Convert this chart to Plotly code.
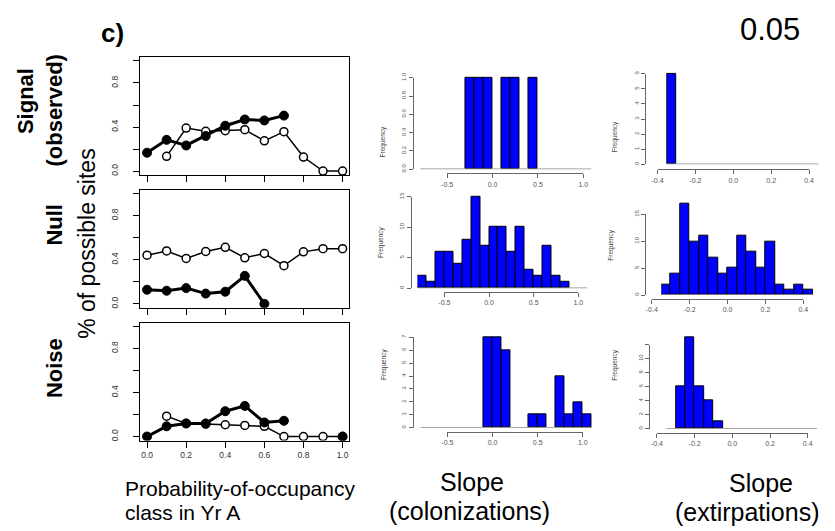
import numpy as np
import plotly.graph_objects as go

W, H = 835, 531
FONT = "Liberation Sans, Arial, sans-serif"

# ---------------- data ----------------
occ_class = [0.0, 0.1, 0.2, 0.3, 0.4, 0.5, 0.6, 0.7, 0.8, 0.9, 1.0]
occ_ticks = [0.0, 0.2, 0.4, 0.6, 0.8, 1.0]
occ_ticktext = ["0.0", "0.2", "0.4", "0.6", "0.8", "1.0"]
pct_ticks = [0.0, 0.2, 0.4, 0.6, 0.8, 1.0]
pct_ticktext = ["0.0", "", "0.4", "", "0.8", ""]

signal_open = [None, 0.134, 0.391, 0.361, 0.367, 0.376, 0.275, 0.358, 0.128, 0.0, 0.0]
signal_filled = [0.167, 0.284, 0.233, 0.319, 0.412, 0.469, 0.460, 0.504, None, None, None]
null_open = [0.442, 0.480, 0.412, 0.475, 0.513, 0.418, 0.457, 0.346, 0.472, 0.501, 0.501]
null_filled = [0.128, 0.119, 0.143, 0.093, 0.110, 0.254, 0.0, None, None, None, None]
noise_open = [None, 0.185, 0.119, 0.113, 0.107, 0.101, 0.093, 0.0, 0.0, 0.0, 0.0]
noise_filled = [0.0, 0.093, 0.119, 0.119, 0.230, 0.278, 0.128, 0.143, None, None, 0.0]

# histogram bins: colonization slopes (breaks -0.8 .. 1.1 by 0.1)
col_break_start, col_break_width = -0.8, 0.1
signal_col_counts = [0, 0, 0, 0, 0, 1, 1, 1, 0, 1, 1, 0, 1, 0, 0, 0, 0, 0, 0]
null_col_counts = [2, 1, 6, 6, 4, 8, 15, 7, 10, 10, 6, 10, 3, 2, 7, 2, 1, 0, 0]
noise_col_counts = [0, 0, 0, 0, 0, 0, 0, 7, 7, 6, 0, 0, 1, 1, 0, 4, 1, 2, 1]
col_xticks = [-0.5, 0.0, 0.5, 1.0]
col_xticktext = ["-0.5", "0.0", "0.5", "1.0"]

# extirpation slopes (breaks -0.35 .. 0.45 by 0.05)
ext_break_start, ext_break_width = -0.35, 0.05
signal_ext_counts = [6, 0, 0, 0, 0, 0, 0, 0, 0, 0, 0, 0, 0, 0, 0, 0]
null_ext_counts = [2, 4, 17, 10, 11, 7, 4, 5, 11, 8, 5, 10, 2, 1, 2, 1]
noise_ext_counts = [0, 6, 13, 6, 4, 1, 0, 0, 0, 0, 0, 0, 0, 0, 0, 0]
ext_xticks = [-0.4, -0.2, 0.0, 0.2, 0.4]
ext_xticktext = ["-0.4", "-0.2", "0.0", "0.2", "0.4"]

freq_ticks_signal_col = [0.0, 0.2, 0.4, 0.6, 0.8, 1.0]
freq_ticktext_signal_col = ["0.0", "0.2", "0.4", "0.6", "0.8", "1.0"]
freq_ticks_null_col = [0, 5, 10, 15]
freq_ticks_noise_col = [0, 1, 2, 3, 4, 5, 6, 7]
freq_ticks_signal_ext = [0, 1, 2, 3, 4, 5, 6]
freq_ticks_null_ext = [0, 5, 10, 15]
freq_ticks_noise_ext = [0, 2, 4, 6, 8, 10, 12]
freq_ticktext_noise_ext = ["0", "2", "4", "6", "8", "10", ""]

# ---------------- helpers ----------------
def fx(px):
    return px / W

def fy(py):
    return 1 - py / H

fig = go.Figure()
layout = {}
axis_counter = [0]

def new_axes():
    axis_counter[0] += 1
    n = axis_counter[0]
    sfx = "" if n == 1 else str(n)
    return ("x" + sfx, "y" + sfx, "xaxis" + sfx, "yaxis" + sfx)

# ---------------- left line panels ----------------
left_panels = [
    dict(open=signal_open, filled=signal_filled, top=52, bottom=172, labels=False),
    dict(open=null_open, filled=null_filled, top=187, bottom=307, labels=False),
    dict(open=noise_open, filled=noise_filled, top=322, bottom=442, labels=True),
]
for p in left_panels:
    xr, yr, xk, yk = new_axes()
    fig.add_trace(go.Scatter(x=occ_class, y=p["open"], xaxis=xr, yaxis=yr, mode="lines+markers",
                             line=dict(color="black", width=1.5),
                             marker=dict(symbol="circle", size=8, color="white",
                                         line=dict(color="black", width=1.5)),
                             showlegend=False, hoverinfo="skip"))
    fig.add_trace(go.Scatter(x=occ_class, y=p["filled"], xaxis=xr, yaxis=yr, mode="lines+markers",
                             line=dict(color="black", width=3),
                             marker=dict(symbol="circle", size=9, color="black",
                                         line=dict(color="black", width=1)),
                             showlegend=False, hoverinfo="skip"))
    layout[xk] = dict(domain=[fx(136), fx(348)], range=[-0.035, 1.035], anchor=yr,
                      showgrid=False, zeroline=False, showline=True, linecolor="black", linewidth=1,
                      mirror=True, ticks="outside", ticklen=6, tickcolor="black",
                      tickvals=occ_ticks, ticktext=occ_ticktext, showticklabels=p["labels"],
                      tickfont=dict(size=8.5, color="#333", family=FONT))
    layout[yk] = dict(domain=[fy(p["bottom"]), fy(p["top"])], range=[-0.036, 1.035], anchor=xr,
                      showgrid=False, zeroline=False, showline=True, linecolor="black", linewidth=1,
                      mirror=True, ticks="outside", ticklen=6, tickcolor="black",
                      tickvals=pct_ticks, ticktext=pct_ticktext, tickangle=-90,
                      ticklabelstandoff=12,
                      tickfont=dict(size=8.5, color="#333", family=FONT))

# ---------------- histograms ----------------
hists = [
    dict(counts=signal_col_counts, b0=col_break_start, bw=col_break_width,
         xl=420, xr=593, x0px=493, xs=92, base=166, ys=93, ytop=69,
         yt=freq_ticks_signal_col, ytt=freq_ticktext_signal_col, yaxpx=412, xaxpy=170,
         xt=col_xticks, xtt=col_xticktext, flab=(382, 120)),
    dict(counts=null_col_counts, b0=col_break_start, bw=col_break_width,
         xl=417, xr=590, x0px=489.5, xs=90.5, base=287, ys=6.2, ytop=190,
         yt=freq_ticks_null_col, ytt=[str(v) for v in freq_ticks_null_col], yaxpx=410, xaxpy=291,
         xt=col_xticks, xtt=col_xticktext, flab=(380, 240)),
    dict(counts=noise_col_counts, b0=col_break_start, bw=col_break_width,
         xl=420, xr=594, x0px=493, xs=91.5, base=429, ys=13.14, ytop=333,
         yt=freq_ticks_noise_col, ytt=[str(v) for v in freq_ticks_noise_col], yaxpx=412, xaxpy=433,
         xt=col_xticks, xtt=col_xticktext, flab=(383, 382)),
    dict(counts=signal_ext_counts, b0=ext_break_start, bw=ext_break_width,
         xl=669, xr=824, x0px=737, xs=192, base=161, ys=15.33, ytop=65,
         yt=freq_ticks_signal_ext, ytt=[str(v) for v in freq_ticks_signal_ext], yaxpx=648, xaxpy=166,
         xt=ext_xticks, xtt=ext_xticktext, flab=(623, 115)),
    dict(counts=null_ext_counts, b0=ext_break_start, bw=ext_break_width,
         xl=664, xr=818, x0px=731.2, xs=192, base=294, ys=5.47, ytop=197,
         yt=freq_ticks_null_ext, ytt=[str(v) for v in freq_ticks_null_ext], yaxpx=648, xaxpy=298,
         xt=ext_xticks, xtt=ext_xticktext, flab=(619, 243)),
    dict(counts=noise_ext_counts, b0=ext_break_start, bw=ext_break_width,
         xl=669, xr=824, x0px=736, xs=191, base=430, ys=7.13, ytop=334,
         yt=freq_ticks_noise_ext, ytt=freq_ticktext_noise_ext, yaxpx=652, xaxpy=434,
         xt=ext_xticks, xtt=ext_xticktext, flab=(623, 383)),
]

annotations = []
for h in hists:
    counts = np.array(h["counts"], dtype=float)
    n = len(counts)
    edges = h["b0"] + h["bw"] * np.arange(n + 1)
    centers = (edges[:-1] + edges[1:]) / 2
    mask = counts > 0
    # data axes (invisible)
    xr, yr, xk, yk = new_axes()
    fig.add_trace(go.Scatter(x=[edges[0], edges[-1]], y=[0, 0], xaxis=xr, yaxis=yr, mode="lines",
                             line=dict(color="#8a8a8a", width=1.5), showlegend=False, hoverinfo="skip"))
    fig.add_trace(go.Bar(x=centers[mask], y=counts[mask], width=h["bw"], xaxis=xr, yaxis=yr,
                         marker=dict(color="#0000FF", line=dict(color="black", width=1)),
                         showlegend=False, hoverinfo="skip"))
    layout[xk] = dict(domain=[fx(h["xl"]), fx(h["xr"])],
                      range=[(h["xl"] - h["x0px"]) / h["xs"], (h["xr"] - h["x0px"]) / h["xs"]],
                      anchor=yr, visible=False)
    layout[yk] = dict(domain=[fy(h["base"]), fy(h["ytop"])],
                      range=[0, (h["base"] - h["ytop"]) / h["ys"]], anchor=xr, visible=False)
    # tick axes
    xr2, yr2, xk2, yk2 = new_axes()
    t0, t1 = h["xt"][0], h["xt"][-1]
    ymax = h["yt"][-1]
    fig.add_trace(go.Scatter(x=[t0], y=[0], xaxis=xr2, yaxis=yr2, mode="markers",
                             marker=dict(opacity=0), showlegend=False, hoverinfo="skip"))
    layout[xk2] = dict(domain=[fx(h["x0px"] + t0 * h["xs"]), fx(h["x0px"] + t1 * h["xs"])],
                       range=[t0, t1], anchor="free", position=fy(h["xaxpy"]),
                       showgrid=False, zeroline=False, showline=True, linecolor="#666", linewidth=1,
                       ticks="outside", ticklen=4, tickcolor="#666", tickwidth=1,
                       tickvals=h["xt"], ticktext=h["xtt"],
                       tickfont=dict(size=7, color="#555", family=FONT))
    layout[yk2] = dict(domain=[fy(h["base"]), fy(h["base"] - ymax * h["ys"])],
                       range=[0, ymax], anchor="free", position=fx(h["yaxpx"]),
                       showgrid=False, zeroline=False, showline=True, linecolor="#666", linewidth=1,
                       ticks="outside", ticklen=4, tickcolor="#666", tickwidth=1,
                       tickvals=h["yt"], ticktext=h["ytt"], tickangle=-90,
                       tickfont=dict(size=6, color="#555", family=FONT))
    annotations.append(dict(text="Frequency", x=fx(h["flab"][0]), y=fy(h["flab"][1]),
                            xref="paper", yref="paper", showarrow=False, textangle=-90,
                            font=dict(size=6.5, color="#444", family=FONT)))

# ---------------- text labels ----------------
def txt(text, x, y, size, bold=False, angle=0, xanchor="center"):
    annotations.append(dict(text=("<b>%s</b>" % text) if bold else text, x=fx(x), y=fy(y),
                            xref="paper", yref="paper", showarrow=False, textangle=angle,
                            xanchor=xanchor, yanchor="middle", borderpad=0,
                            font=dict(size=size, color="black", family=FONT)))

txt("c)", 108, 27, 26, bold=True)
txt("0.05", 774, 24, 31)
txt("Signal", 20, 97, 22, bold=True, angle=-90)
txt("(observed)", 49, 106, 22, bold=True, angle=-90)
txt("Null", 49, 222, 22, bold=True, angle=-90)
txt("% of possible sites", 82, 242, 23, angle=-90)
txt("Noise", 49, 368, 22, bold=True, angle=-90)
txt("Probability-of-occupancy", 120, 491, 21, xanchor="left")
txt("class in Yr A", 120, 515, 21, xanchor="left")
txt("Slope", 472, 484, 25)
txt("(colonizations)", 470, 514, 25)
txt("Slope", 765, 485, 25)
txt("(extirpations)", 751, 515, 25)

fig.update_layout(width=W, height=H, margin=dict(l=0, r=0, t=0, b=0),
                  paper_bgcolor="white", plot_bgcolor="rgba(0,0,0,0)",
                  barmode="overlay", bargap=0, showlegend=False,
                  annotations=annotations, font=dict(family=FONT), **layout)
fig.write_html("out.html", config={"displayModeBar": False},
               post_script="document.body.style.margin='0';document.body.style.overflow='hidden';")
